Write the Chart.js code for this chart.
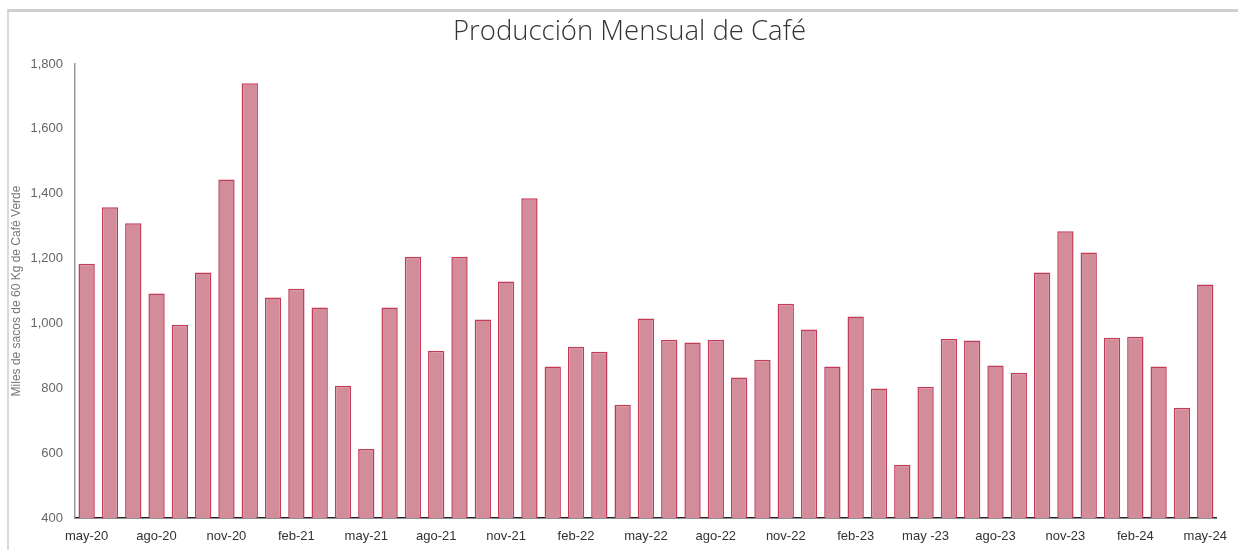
<!DOCTYPE html>
<html>
<head>
<meta charset="utf-8">
<script src="https://cdn.jsdelivr.net/npm/chart.js@4"></script>
<style>
  html, body { margin: 0; padding: 0; background: #fff; }
  #marco {
    position: absolute; left: 7px; top: 9px; right: 0; bottom: 0;
    border-top: 3px solid #cfcfcf; border-left: 2px solid #d9d9d9;
  }
  #lienzo { position: absolute; left: 0; top: 0; width: 1238px; height: 550px; }
</style>
</head>
<body>
<div id="marco"></div>
<div id="lienzo"><canvas id="produccionCafe" width="1238" height="550"></canvas></div>
<script>
// Meses (etiquetas del eje x)
const meses = [
  'may-20','jun-20','jul-20','ago-20','sep-20','oct-20','nov-20','dic-20',
  'ene-21','feb-21','mar-21','abr-21','may-21','jun-21','jul-21','ago-21','sep-21','oct-21','nov-21','dic-21',
  'ene-22','feb-22','mar-22','abr-22','may-22','jun-22','jul-22','ago-22','sep-22','oct-22','nov-22','dic-22',
  'ene-23','feb-23','mar-23','abr-23','may -23','jun-23','jul-23','ago-23','sep-23','oct-23','nov-23','dic-23',
  'ene-24','feb-24','mar-24','abr-24','may-24'
];

// Miles de sacos de 60 kg
const produccion = [
  1184, 1358, 1309, 1092, 996, 1157, 1444, 1741,
  1080, 1107, 1049, 808, 613, 1049, 1206, 916, 1206, 1012, 1129, 1386,
  867, 928, 913, 749, 1015, 950, 941, 950, 833, 888, 1061, 981,
  867, 1021, 799, 564, 805, 953, 947, 870, 848, 1157, 1284, 1219,
  956, 959, 867, 740, 1120
];

// Marcas del eje y
const ejeMin = 400;
const ejeMax = 1800;
const ejePaso = 200;

// mueve el título un poco a la derecha, como en el original
const moverTitulo = {
  id: 'moverTitulo',
  afterLayout(chart) {
    if (chart.titleBlock) {
      chart.titleBlock.left += 11;
      chart.titleBlock.right += 11;
    }
  }
};

const ctx = document.getElementById('produccionCafe').getContext('2d');
new Chart(ctx, {
  type: 'bar',
  data: {
    labels: meses,
    datasets: [{
      label: 'Producción',
      data: produccion,
      backgroundColor: '#d38c99',
      borderColor: '#c23b57',
      borderWidth: 1.5,
      categoryPercentage: 1.0,
      barPercentage: 0.7
    }]
  },
  options: {
    responsive: false,
    animation: false,
    layout: { padding: { left: 8, right: 9, top: 0, bottom: 0 } },
    plugins: {
      legend: { display: false },
      tooltip: { enabled: false },
      title: {
        display: true,
        text: 'Producción Mensual de Café',
        color: '#333',
        font: { family: '"Open Sans", "Noto Sans", sans-serif', size: 27.5, weight: '300' },
        padding: { top: 16, bottom: 15 }
      }
    },
    scales: {
      x: {
        offset: true,
        grid: { display: false, drawTicks: false },
        border: { display: true, color: '#222', width: 1.5 },
        afterFit: function(scale) { scale.height = 32; },
        ticks: {
          autoSkip: false,
          maxRotation: 0,
          padding: 11,
          color: '#333',
          font: { family: '"Liberation Sans", Arial, sans-serif', size: 13 },
          callback: function(value, index) {
            return index % 3 === 0 ? this.getLabelForValue(value) : null;
          }
        }
      },
      y: {
        min: ejeMin,
        max: ejeMax,
        grid: { display: false, drawTicks: false },
        border: { display: true, color: '#999', width: 1.5 },
        afterFit: function(scale) { scale.width = 67; },
        title: {
          display: true,
          text: 'Miles de sacos de 60 Kg de Café Verde',
          color: '#777',
          font: { family: '"Liberation Sans", Arial, sans-serif', size: 12 },
          padding: { top: 1, bottom: 0 }
        },
        ticks: {
          stepSize: ejePaso,
          padding: 12,
          color: '#666',
          font: { family: '"Liberation Sans", Arial, sans-serif', size: 13 },
          callback: function(value) { return value.toLocaleString('en-US'); }
        }
      }
    }
  },
  plugins: [moverTitulo]
});
</script>
</body>
</html>
